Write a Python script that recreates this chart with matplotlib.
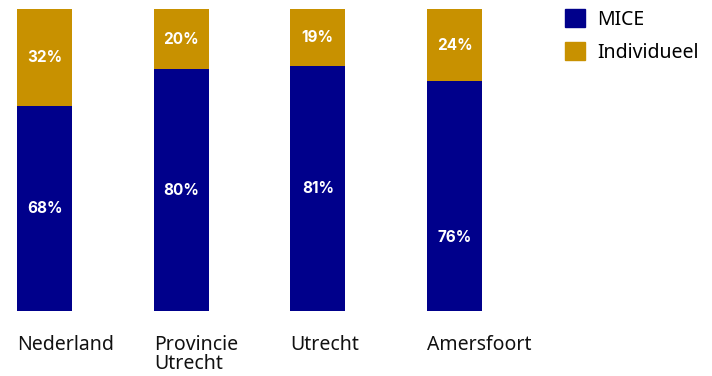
import numpy as np
import matplotlib.pyplot as plt
from matplotlib.patches import Patch

plt.rcParams['font.family'] = ['Noto Sans', 'DejaVu Sans']

regions = ["Nederland", "Provincie\nUtrecht", "Utrecht", "Amersfoort"]
mice = [68, 80, 81, 76]
individueel = [32, 20, 19, 24]

navy = "#00008B"
gold = "#C89100"

fig = plt.figure(figsize=(7.12, 3.76), dpi=100)
ax = fig.add_axes([0, 0, 1, 1])

x = np.arange(len(regions))
width = 0.4
mice_frac = np.array(mice) / 100
ind_frac = np.array(individueel) / 100

ax.bar(x, mice_frac, width, color=navy)
ax.bar(x, ind_frac, width, bottom=mice_frac, color=gold)

# the Amersfoort MICE label sits lower in its segment
mice_label_shift = [0, 0, 0, -0.135]
value_font = dict(ha="center", va="center", color="white", fontsize=11,
                  fontweight="bold", family=["Inter", "DejaVu Sans"])
for i in range(len(regions)):
    ax.text(x[i], mice_frac[i] / 2 + mice_label_shift[i], f"{mice[i]}%", **value_font)
    ax.text(x[i], mice_frac[i] + ind_frac[i] / 2, f"{individueel[i]}%", **value_font)
    ax.text(x[i] - width / 2, -0.08, regions[i], ha="left", va="top",
            fontsize=14, color="#111111", linespacing=0.9)

ax.set_xlim(-0.326, 4.885)
ax.set_ylim(-0.215, 1.0298)
ax.axis("off")

handles = [Patch(color=navy, label="MICE"), Patch(color=gold, label="Individueel")]
fig.legend(handles=handles, loc="upper left", bbox_to_anchor=(0.7935, 0.975),
           frameon=False, fontsize=14, handlelength=1.05, handleheight=1.05,
           handletextpad=0.6, labelspacing=0.62, borderaxespad=0, borderpad=0)

fig.savefig("out.png", dpi=100)
